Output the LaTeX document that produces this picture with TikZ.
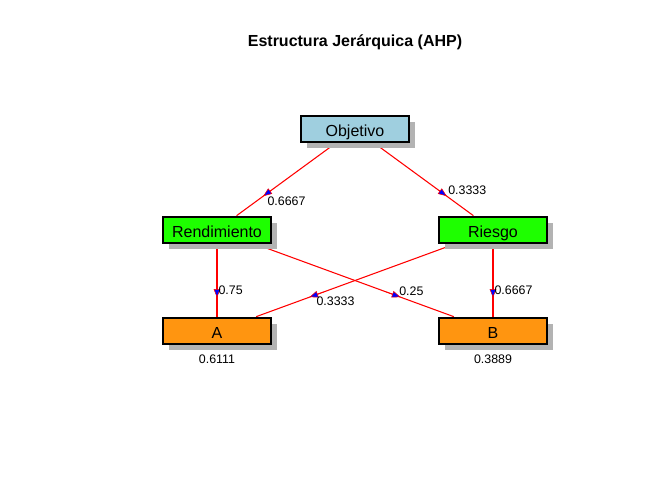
\documentclass[tikz,border=0pt]{standalone}
\usepackage{fontspec}
\setmainfont{Liberation Sans}
\usetikzlibrary{arrows.meta,positioning,calc,shadows}
\definecolor{goalfill}{HTML}{9FCFDF}
\definecolor{critfill}{HTML}{1EFF00}
\definecolor{altfill}{HTML}{FF9510}
\definecolor{shadowgray}{HTML}{B3B3B3}
\definecolor{edgered}{HTML}{FF0000}
\definecolor{tipblue}{HTML}{0000FF}
\pgfdeclarelayer{edges}
\pgfsetlayers{edges,main}
\tikzset{
  ahpbox/.style={rectangle,draw=black,line width=1.5pt,
    minimum width=81pt,minimum height=20pt,inner sep=0pt,
    text height=10.5pt,text depth=0pt,
    font=\fontsize{12}{14}\selectfont,
    drop shadow={shadow xshift=4.5pt,shadow yshift=-4.5pt,fill=shadowgray,opacity=1}},
  goalbox/.style={ahpbox,fill=goalfill},
  critbox/.style={ahpbox,fill=critfill},
  altbox/.style={ahpbox,fill=altfill},
  ahpedge/.style={draw=edgered,line width=0.8pt},
  ahptip/.style={draw=edgered,line width=0.4pt,
    -{Triangle[length=6.5pt,width=5pt,fill=tipblue]}},
  wlabel/.style={font=\fontsize{9.3}{11}\selectfont,anchor=west,inner sep=1pt},
}
\begin{document}
\begin{tikzpicture}[x=0.75pt,y=-0.75pt]
  \useasboundingbox (0,0) rectangle (672,480);
  \node[font=\bfseries\fontsize{12}{14}\selectfont] (title) at (355,42) {Estructura Jerárquica (AHP)};

  \node[goalbox] (obj)  at (355,129) {Objetivo};
  \node[critbox] (rend) at (217,230) {Rendimiento};
  \node[critbox] (ries) at (493,230) {Riesgo};
  \node[altbox]  (a)    at (217,331) {A};
  \node[altbox]  (b)    at (493,331) {B};
  \node[wlabel, anchor=north, below=6pt of a] (wa) {0.6111};
  \node[wlabel, anchor=north, below=6pt of b] (wb) {0.3889};

  % edges behind the boxes
  \begin{pgfonlayer}{edges}
    \draw[ahpedge] (obj) -- (rend);
    \draw[ahpedge] (obj) -- (ries);
    \draw[ahpedge] (rend) -- (a);
    \draw[ahpedge] (rend) -- (b);
    \draw[ahpedge] (ries) -- (a);
    \draw[ahpedge] (ries) -- (b);
  \end{pgfonlayer}

  \draw[ahptip] ($(obj)!0.61!(rend)$) -- ($(obj)!0.665!(rend)$);
  \draw[ahptip] ($(obj)!0.61!(ries)$) -- ($(obj)!0.665!(ries)$);
  \draw[ahptip] ($(rend)!0.61!(a)$) -- ($(rend)!0.67!(a)$);
  \draw[ahptip] ($(rend)!0.61!(b)$) -- ($(rend)!0.665!(b)$);
  \draw[ahptip] ($(ries)!0.61!(a)$) -- ($(ries)!0.665!(a)$);
  \draw[ahptip] ($(ries)!0.61!(b)$) -- ($(ries)!0.67!(b)$);

  \node[wlabel, yshift=-5pt] (w1) at ($(obj)!0.645!(rend)$) {0.6667};
  \node[wlabel, yshift=3pt, xshift=2pt] (w2) at ($(obj)!0.645!(ries)$) {0.3333};
  \node[wlabel, yshift=3.5pt] (w3) at ($(rend)!0.645!(a)$) {0.75};
  \node[wlabel, yshift=3pt, xshift=2pt] (w4) at ($(rend)!0.645!(b)$) {0.25};
  \node[wlabel, yshift=-4.5pt] (w5) at ($(ries)!0.645!(a)$) {0.3333};
  \node[wlabel, yshift=3.5pt] (w6) at ($(ries)!0.645!(b)$) {0.6667};
\end{tikzpicture}
\end{document}
